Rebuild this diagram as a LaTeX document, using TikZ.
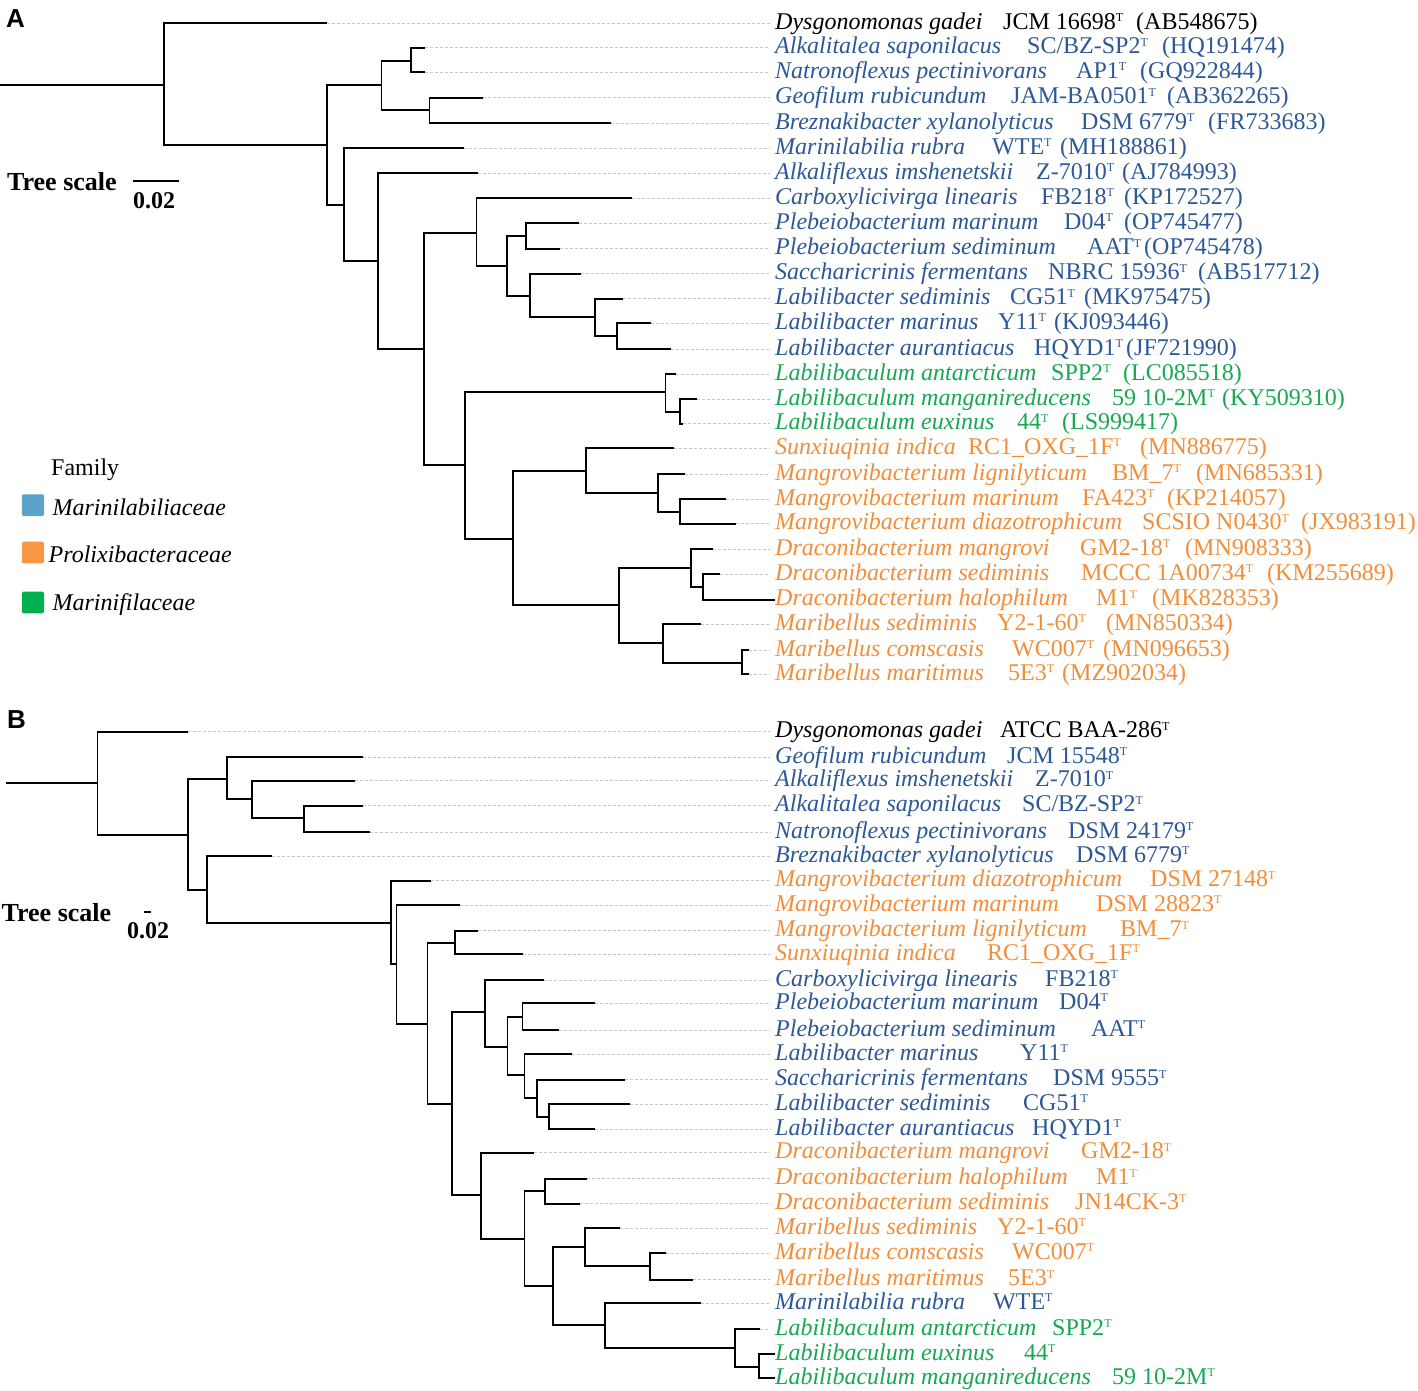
\documentclass[tikz,border=0pt]{standalone}
\usepackage{fontspec}
\setmainfont{Liberation Serif}
\newfontfamily\panelfont{Liberation Sans}
\definecolor{mblue}{RGB}{44,88,150}
\definecolor{morange}{RGB}{242,142,58}
\definecolor{mgreen}{RGB}{23,168,81}
\definecolor{sqblue}{RGB}{91,163,200}
\definecolor{sqorange}{RGB}{247,150,70}
\definecolor{sqgreen}{RGB}{0,176,80}
\newcommand\typ{\raisebox{7.5pt}{\fontsize{12}{12}\selectfont T}}
\tikzset{
  br/.style={line width=1.7pt, black, line join=miter},
  guide/.style={line width=0.8pt, black!22, dash pattern=on 3pt off 2pt},
  lab/.style={anchor=base west, inner sep=0pt, font=\fontsize{24}{26}\selectfont},
  sq/.style={rounded corners=1.5pt}
}
\newcommand\leafA[9]{%
  \coordinate (#1) at (#2,#3);
  \coordinate (#1g) at (770,#3);
  \draw[guide] (#1) -- (#1g);
  \node[lab,text=#4] (#1s) at (775,#3+6) {\textit{#5}};
  \node[lab,text=#4] (#1t) at (#6,#3+6) {#7};
  \node[lab,text=#4] (#1a) at (#8,#3+6) {#9};
}
\newcommand\leafB[7]{%
  \coordinate (#1) at (#2,#3);
  \coordinate (#1g) at (770,#3);
  \draw[guide] (#1) -- (#1g);
  \node[lab,text=#4] (#1s) at (775,#3+6) {\textit{#5}};
  \node[lab,text=#4] (#1t) at (#6,#3+6) {#7};
}
\begin{document}
\begin{tikzpicture}[x=1pt,y=-1pt]
\useasboundingbox (0,0) rectangle (1418,1390);
\fill[white] (0,0) rectangle (1418,1390);

% panel letters
\node[anchor=base west, inner sep=0pt, font=\panelfont\bfseries\fontsize{26}{28}\selectfont] (pA) at (6,27) {A};
\node[anchor=base west, inner sep=0pt, font=\panelfont\bfseries\fontsize{26}{28}\selectfont] (pB) at (7,728) {B};

% ---------------- Tree A leaves ----------------
\leafA{a1}{327}{23.3}{black}{Dysgonomonas gadei}{1003}{JCM 16698\typ}{1136}{(AB548675)}
\leafA{a2}{425}{47.7}{mblue}{Alkalitalea saponilacus}{1027}{SC/BZ-SP2\typ}{1162}{(HQ191474)}
\leafA{a3}{425}{72.3}{mblue}{Natronoflexus pectinivorans}{1076}{AP1\typ}{1140}{(GQ922844)}
\leafA{a4}{483}{97.7}{mblue}{Geofilum rubicundum}{1011}{JAM-BA0501\typ}{1167}{(AB362265)}
\leafA{a5}{610.7}{123.3}{mblue}{Breznakibacter xylanolyticus}{1081}{DSM 6779\typ}{1208}{(FR733683)}
\leafA{a6}{464.4}{148.3}{mblue}{Marinilabilia rubra}{992}{WTE\typ}{1060}{(MH188861)}
\leafA{a7}{478.4}{173}{mblue}{Alkaliflexus imshenetskii}{1036}{Z-7010\typ}{1122}{(AJ784993)}
\leafA{a8}{631.6}{198}{mblue}{Carboxylicivirga linearis}{1041}{FB218\typ}{1124}{(KP172527)}
\leafA{a9}{579}{223}{mblue}{Plebeiobacterium marinum}{1064}{D04\typ}{1124}{(OP745477)}
\leafA{a10}{560}{248.7}{mblue}{Plebeiobacterium sediminum}{1087}{AAT\typ}{1144}{(OP745478)}
\leafA{a11}{580.7}{273.7}{mblue}{Saccharicrinis fermentans}{1048}{NBRC 15936\typ}{1198}{(AB517712)}
\leafA{a12}{622.9}{298.7}{mblue}{Labilibacter sediminis}{1010}{CG51\typ}{1084}{(MK975475)}
\leafA{a13}{651}{323}{mblue}{Labilibacter marinus}{998}{Y11\typ}{1054}{(KJ093446)}
\leafA{a14}{671}{349}{mblue}{Labilibacter aurantiacus}{1034}{HQYD1\typ}{1126}{(JF721990)}
\leafA{a15}{676}{374}{mgreen}{Labilibaculum antarcticum}{1051}{SPP2\typ}{1123}{(LC085518)}
\leafA{a16}{697}{399.3}{mgreen}{Labilibaculum manganireducens}{1112}{59 10-2M\typ}{1222}{(KY509310)}
\leafA{a17}{683}{423.7}{mgreen}{Labilibaculum euxinus}{1017}{44\typ}{1062}{(LS999417)}
\leafA{a18}{673.8}{448.3}{morange}{Sunxiuqinia indica}{968}{RC1\_OXG\_1F\typ}{1140}{(MN886775)}
\leafA{a19}{685.4}{474.3}{morange}{Mangrovibacterium lignilyticum}{1112}{BM\_7\typ}{1196}{(MN685331)}
\leafA{a20}{725.6}{499.3}{morange}{Mangrovibacterium marinum}{1082}{FA423\typ}{1167}{(KP214057)}
\leafA{a21}{735.8}{523.7}{morange}{Mangrovibacterium diazotrophicum}{1142}{SCSIO N0430\typ}{1301}{(JX983191)}
\leafA{a22}{713}{549}{morange}{Draconibacterium mangrovi}{1080}{GM2-18\typ}{1185}{(MN908333)}
\leafA{a23}{720}{574}{morange}{Draconibacterium sediminis}{1081}{MCCC 1A00734\typ}{1267}{(KM255689)}
\leafA{a24}{775}{599.7}{morange}{Draconibacterium halophilum}{1096}{M1\typ}{1152}{(MK828353)}
\leafA{a25}{701.4}{624}{morange}{Maribellus sediminis}{997}{Y2-1-60\typ}{1106}{(MN850334)}
\leafA{a26}{749}{650}{morange}{Maribellus comscasis}{1012}{WC007\typ}{1103}{(MN096653)}
\leafA{a27}{749}{674.3}{morange}{Maribellus maritimus}{1008}{5E3\typ}{1062}{(MZ902034)}

% internal nodes A
\coordinate (rA) at (0,85);
\coordinate (A1) at (164,85);
\coordinate (A2) at (327,145);
\coordinate (A3) at (381.5,85);
\coordinate (A4) at (411,61);
\coordinate (A5) at (429.5,110);
\coordinate (A6) at (344,205);
\coordinate (A7) at (378,261);
\coordinate (A8) at (424,349);
\coordinate (A21) at (476.5,233);
\coordinate (A22) at (507,266.3);
\coordinate (A23) at (526,236.3);
\coordinate (A24) at (530,295.7);
\coordinate (A25) at (595,317.3);
\coordinate (A26) at (617,335.7);
\coordinate (A9) at (465,465);
\coordinate (A10) at (665.5,392.3);
\coordinate (A11) at (680,411.7);
\coordinate (A12) at (513.3,538.7);
\coordinate (A13) at (586,471.3);
\coordinate (A14) at (658,493.3);
\coordinate (A15) at (680,512);
\coordinate (A16) at (619,605.3);
\coordinate (A17) at (691,567.7);
\coordinate (A18) at (703,586.7);
\coordinate (A19) at (663,642.7);
\coordinate (A20) at (742,662.7);

\draw[br] (rA) -- (A1);
\foreach \p/\c in {A1/a1,A1/A2,A2/A3,A2/A6,A3/A4,A3/A5,A4/a2,A4/a3,A5/a4,A5/a5,
  A6/a6,A6/A7,A7/a7,A7/A8,A8/A21,A8/A9,A21/a8,A21/A22,A22/A23,A22/A24,
  A23/a9,A23/a10,A24/a11,A24/A25,A25/a12,A25/A26,A26/a13,A26/a14,
  A9/A10,A9/A12,A10/a15,A10/A11,A11/a16,A11/a17,A12/A13,A12/A16,
  A13/a18,A13/A14,A14/a19,A14/A15,A15/a20,A15/a21,A16/A17,A16/A19,
  A17/a22,A17/A18,A18/a23,A18/a24,A19/a25,A19/A20,A20/a26,A20/a27}
  \draw[br] (\p) |- (\c);

% tree scale A
\node[anchor=base west, inner sep=0pt, font=\bfseries\fontsize{26}{28}\selectfont] (tsA) at (7,190) {Tree scale};
\coordinate (sA1) at (133,181);
\coordinate (sA2) at (179.4,181);
\draw[line width=1.7pt] (sA1) -- (sA2);
\node[anchor=base west, inner sep=0pt, font=\bfseries\fontsize{24}{26}\selectfont] (tsAv) at (133,208) {0.02};

% legend
\node[anchor=base west, inner sep=0pt, font=\fontsize{24}{26}\selectfont] (fam) at (51,475) {Family};
\fill[sq,sqblue] (21.8,494.3) rectangle (44.1,516);
\fill[sq,sqorange] (21.8,541.7) rectangle (44.1,563.3);
\fill[sq,sqgreen] (21.8,591.7) rectangle (44.1,613.3);
\node[anchor=base west, inner sep=0pt, font=\itshape\fontsize{24}{26}\selectfont] (lg1) at (52.4,515) {Marinilabiliaceae};
\node[anchor=base west, inner sep=0pt, font=\itshape\fontsize{24}{26}\selectfont] (lg2) at (48.5,562) {Prolixibacteraceae};
\node[anchor=base west, inner sep=0pt, font=\itshape\fontsize{24}{26}\selectfont] (lg3) at (52.4,610) {Marinifilaceae};

% ---------------- Tree B leaves ----------------
\leafB{b1}{188}{731.7}{black}{Dysgonomonas gadei}{1000}{ATCC BAA-286\typ}
\leafB{b2}{362.6}{757}{mblue}{Geofilum rubicundum}{1007}{JCM 15548\typ}
\leafB{b3}{354.8}{780.7}{mblue}{Alkaliflexus imshenetskii}{1035}{Z-7010\typ}
\leafB{b4}{363}{805.7}{mblue}{Alkalitalea saponilacus}{1022}{SC/BZ-SP2\typ}
\leafB{b5}{369.8}{832.3}{mblue}{Natronoflexus pectinivorans}{1068}{DSM 24179\typ}
\leafB{b6}{272}{856}{mblue}{Breznakibacter xylanolyticus}{1076}{DSM 6779\typ}
\leafB{b7}{431}{880.7}{morange}{Mangrovibacterium diazotrophicum}{1150}{DSM 27148\typ}
\leafB{b8}{459.5}{905}{morange}{Mangrovibacterium marinum}{1096}{DSM 28823\typ}
\leafB{b9}{477.5}{930.7}{morange}{Mangrovibacterium lignilyticum}{1120}{BM\_7\typ}
\leafB{b10}{522.5}{954}{morange}{Sunxiuqinia indica}{987}{RC1\_OXG\_1F\typ}
\leafB{b11}{544}{980}{mblue}{Carboxylicivirga linearis}{1045}{FB218\typ}
\leafB{b12}{594.8}{1003}{mblue}{Plebeiobacterium marinum}{1059}{D04\typ}
\leafB{b13}{559.4}{1030.3}{mblue}{Plebeiobacterium sediminum}{1091}{AAT\typ}
\leafB{b14}{571.5}{1054}{mblue}{Labilibacter marinus}{1020}{Y11\typ}
\leafB{b15}{625.3}{1079.7}{mblue}{Saccharicrinis fermentans}{1053}{DSM 9555\typ}
\leafB{b16}{630}{1104.3}{mblue}{Labilibacter sediminis}{1023}{CG51\typ}
\leafB{b17}{594.8}{1129.3}{mblue}{Labilibacter aurantiacus}{1032}{HQYD1\typ}
\leafB{b18}{534.2}{1152.7}{morange}{Draconibacterium mangrovi}{1081}{GM2-18\typ}
\leafB{b19}{586.5}{1178.7}{morange}{Draconibacterium halophilum}{1096}{M1\typ}
\leafB{b20}{579.7}{1203.7}{morange}{Draconibacterium sediminis}{1075}{JN14CK-3\typ}
\leafB{b21}{620}{1228.3}{morange}{Maribellus sediminis}{997}{Y2-1-60\typ}
\leafB{b22}{665.5}{1253}{morange}{Maribellus comscasis}{1012}{WC007\typ}
\leafB{b23}{693.2}{1279.7}{morange}{Maribellus maritimus}{1008}{5E3\typ}
\leafB{b24}{701.4}{1303.3}{mblue}{Marinilabilia rubra}{993}{WTE\typ}
\leafB{b25}{760}{1329}{mgreen}{Labilibaculum antarcticum}{1052}{SPP2\typ}
\leafB{b26}{775}{1354}{mgreen}{Labilibaculum euxinus}{1024}{44\typ}
\leafB{b27}{775}{1378}{mgreen}{Labilibaculum manganireducens}{1112}{59 10-2M\typ}

% internal nodes B
\coordinate (rB) at (6,782.7);
\coordinate (B1) at (97.4,782.7);
\coordinate (B2) at (188,834.7);
\coordinate (B3) at (227.3,778.7);
\coordinate (B4) at (252,799);
\coordinate (B5) at (304,817.7);
\coordinate (B6) at (207,890);
\coordinate (B7) at (390.7,923);
\coordinate (B8) at (396.5,964.3);
\coordinate (B9) at (427.5,1024);
\coordinate (B10) at (455,943.3);
\coordinate (B11) at (452.3,1104.3);
\coordinate (B12) at (484.7,1012.3);
\coordinate (B13) at (507.5,1046.7);
\coordinate (B14) at (522.5,1017.3);
\coordinate (B15) at (524.5,1075.3);
\coordinate (B16) at (537,1098);
\coordinate (B17) at (549.2,1117);
\coordinate (B18) at (481,1195.3);
\coordinate (B19) at (524.5,1239);
\coordinate (B20) at (545,1191);
\coordinate (B21) at (553,1286);
\coordinate (B22) at (585,1247);
\coordinate (B23) at (650,1265.7);
\coordinate (B24) at (605,1325.3);
\coordinate (B25) at (735.3,1348);
\coordinate (B26) at (759,1366.7);

\draw[br] (rB) -- (B1);
\foreach \p/\c in {B1/b1,B1/B2,B2/B3,B2/B6,B3/b2,B3/B4,B4/b3,B4/B5,B5/b4,B5/b5,
  B6/b6,B6/B7,B7/b7,B7/B8,B8/b8,B8/B9,B9/B10,B9/B11,B10/b9,B10/b10,
  B11/B12,B11/B18,B12/b11,B12/B13,B13/B14,B13/B15,B14/b12,B14/b13,
  B15/b14,B15/B16,B16/b15,B16/B17,B17/b16,B17/b17,B18/b18,B18/B19,
  B19/B20,B19/B21,B20/b19,B20/b20,B21/B22,B21/B24,B22/b21,B22/B23,
  B23/b22,B23/b23,B24/b24,B24/B25,B25/b25,B25/B26,B26/b26,B26/b27}
  \draw[br] (\p) |- (\c);

% tree scale B
\node[anchor=base west, inner sep=0pt, font=\bfseries\fontsize{26}{28}\selectfont] (tsB) at (1.5,921) {Tree scale};
\coordinate (sB1) at (144.4,911.7);
\coordinate (sB2) at (151,911.7);
\draw[line width=1.7pt] (sB1) -- (sB2);
\node[anchor=base west, inner sep=0pt, font=\bfseries\fontsize{24}{26}\selectfont] (tsBv) at (127,938) {0.02};
\end{tikzpicture}
\end{document}
